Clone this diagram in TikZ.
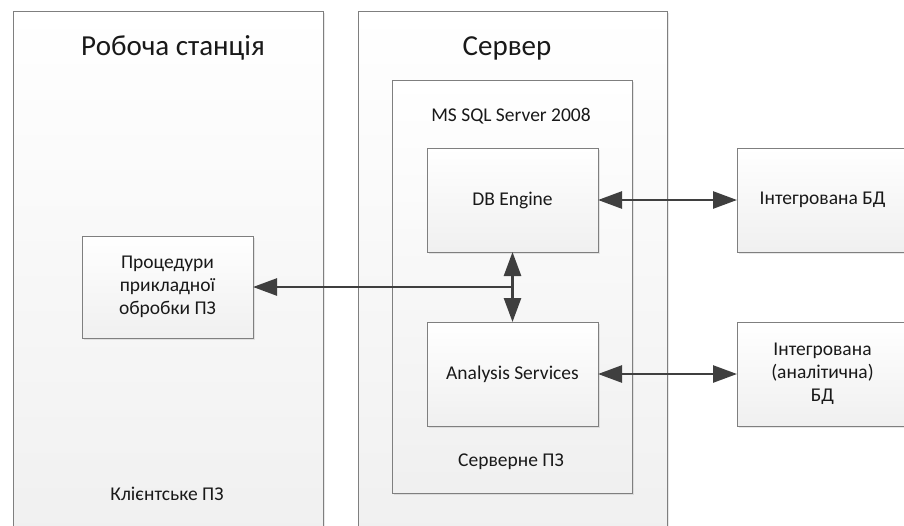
\documentclass[tikz,border=0pt]{standalone}
\usepackage{fontspec}
\setmainfont{Carlito}
\usetikzlibrary{arrows.meta,shadows}
\definecolor{edgecol}{HTML}{7F7F7F}
\definecolor{arrcol}{HTML}{3F3F3F}
\begin{document}
\begin{tikzpicture}[x=1pt,y=-1pt,
  box/.style={draw=edgecol, line width=0.9pt, top color=white, bottom color=gray!12,
    anchor=north west, inner sep=0pt, outer sep=0pt,
    drop shadow={shadow xshift=2pt, shadow yshift=-2pt, opacity=0.18}},
  lbl/.style={font=\fontsize{19.5}{23}\selectfont, text=black!90, align=center},
  ttl/.style={font=\fontsize{29}{32}\selectfont, text=black!90, anchor=base},
  link/.style={draw=arrcol, line width=2.6pt, {Triangle[length=24pt,width=17pt]}-{Triangle[length=24pt,width=17pt]}},
  onelink/.style={draw=arrcol, line width=2.6pt, -{Triangle[length=24pt,width=17pt]}}]
\useasboundingbox (0,0) rectangle (904,525);
\clip (0,0) rectangle (904,525);
\fill[white] (0,0) rectangle (904,525);
% containers
\node[box, minimum width=310pt, minimum height=540pt] (ws) at (13,11) {};
\node[box, minimum width=309pt, minimum height=540pt] (srv) at (358,11) {};
\node[box, minimum width=240pt, minimum height=413pt] (sql) at (392,80) {};
% inner boxes
\node[box, lbl, minimum width=171pt, minimum height=104pt] (dbe) at (427,148) {DB Engine};
\node[box, lbl, minimum width=171pt, minimum height=104pt] (ans) at (427,322) {Analysis Services};
\node[box, lbl, minimum width=171pt, minimum height=102pt] (proc) at (82,236) {Процедури\\прикладної\\обробки ПЗ};
\node[box, lbl, minimum width=171pt, minimum height=104pt] (idb) at (737,148) {Інтегрована БД};
\node[box, lbl, minimum width=171pt, minimum height=104pt] (iadb) at (737,322) {Інтегрована\\(аналітична)\\БД};
% titles and labels
\node[ttl] (t1) at (173,55) {Робоча станція};
\node[ttl] (t2) at (507,55) {Сервер};
\node[lbl, anchor=base] (t3) at (511,121) {MS SQL Server 2008};
\node[lbl, anchor=base] (t4) at (511,466) {Серверне ПЗ};
\node[lbl, anchor=base] (t5) at (167,500) {Клієнтське ПЗ};
% connectors
\draw[link] (dbe.east) -- (idb.west);
\draw[link] (ans.east) -- (iadb.west);
\draw[link] (dbe.south) -- (ans.north);
\coordinate (j) at (dbe.south |- proc.east);
\draw[onelink] (j) -- (proc.east);
\end{tikzpicture}
\end{document}
